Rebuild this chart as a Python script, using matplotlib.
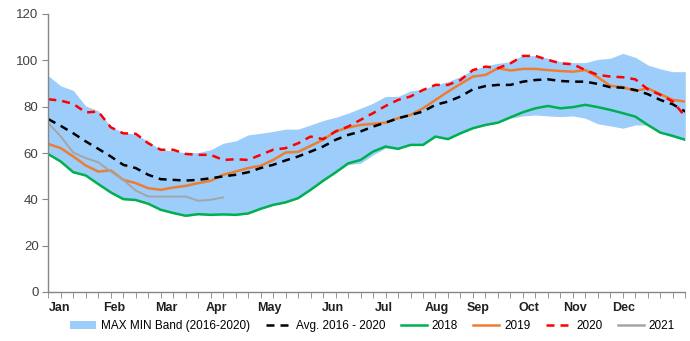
import numpy as np
import matplotlib
matplotlib.use("Agg")
import matplotlib.pyplot as plt
from matplotlib.patches import Patch
from matplotlib.lines import Line2D

plt.rcParams['font.family'] = ['Liberation Sans', 'DejaVu Sans']

weeks = np.arange(52)

band_max = [93.3, 89.0, 87.0, 80.3, 78.2, 71.4, 68.8, 68.1, 65.0, 61.4,
            61.0, 60.0, 60.2, 61.4, 64.2, 65.2, 67.8, 68.5, 69.3, 70.3,
            70.3, 72.1, 74.0, 75.4, 77.2, 79.3, 81.5, 84.4, 84.4, 86.8,
            87.5, 89.4, 90.8, 93.0, 95.8, 97.6, 98.7, 99.4, 102.3, 101.9,
            100.9, 99.4, 99.0, 99.0, 100.4, 100.9, 103.0, 101.3, 98.0, 96.3,
            95.1, 95.1]
band_min = [59.3, 56.1, 51.5, 50.1, 46.4, 42.8, 39.9, 39.5, 37.9, 35.3,
            33.9, 32.7, 33.4, 33.1, 33.3, 33.1, 33.7, 35.7, 37.4, 38.5,
            40.3, 43.9, 47.8, 51.4, 55.0, 55.6, 59.2, 62.1, 61.6, 63.3,
            63.3, 66.8, 65.8, 68.3, 70.5, 71.9, 72.9, 75.0, 76.0, 76.4,
            76.0, 75.7, 76.0, 75.0, 72.6, 71.7, 70.7, 72.1, 72.1, 68.8,
            66.8, 65.5]
avg_16_20 = [74.6, 71.7, 68.5, 65.0, 61.8, 58.5, 54.9, 53.5, 50.6, 48.7,
             48.4, 48.1, 48.4, 49.1, 49.9, 50.6, 51.7, 53.5, 54.9, 56.8,
             58.5, 60.6, 62.8, 65.7, 67.8, 69.3, 71.4, 73.1, 75.0, 76.4,
             77.9, 80.8, 82.2, 84.4, 87.5, 88.9, 89.4, 89.4, 90.8, 91.5,
             91.8, 91.1, 90.8, 90.8, 89.8, 88.4, 88.2, 87.2, 85.4, 82.9,
             81.0, 77.9]
y2018 = [59.5, 56.3, 51.7, 50.3, 46.6, 43.0, 40.1, 39.7, 38.1, 35.5,
         34.1, 32.9, 33.6, 33.3, 33.5, 33.3, 33.9, 35.9, 37.6, 38.7,
         40.5, 44.1, 48.0, 51.6, 55.5, 57.0, 60.6, 62.8, 61.8, 63.5,
         63.5, 67.1, 66.0, 68.5, 70.7, 72.1, 73.1, 75.4, 77.6, 79.3,
         80.3, 79.3, 79.8, 80.8, 79.8, 78.6, 77.2, 75.7, 72.1, 68.8,
         67.4, 65.7]
y2019 = [63.9, 62.1, 58.5, 54.6, 52.0, 52.5, 48.4, 47.0, 44.8, 44.1,
         45.1, 45.8, 47.0, 48.0, 50.6, 52.0, 53.5, 54.5, 57.0, 60.2,
         60.5, 63.1, 65.7, 69.3, 71.0, 72.1, 72.6, 73.1, 75.0, 76.4,
         79.3, 82.9, 86.5, 89.8, 93.0, 93.7, 96.6, 95.6, 96.3, 96.3,
         95.8, 95.4, 95.1, 95.8, 92.7, 89.0, 88.4, 86.8, 87.9, 85.4,
         82.9, 82.2]
y2020 = [83.2, 82.6, 81.2, 77.5, 77.9, 71.1, 68.5, 68.3, 64.2, 61.4,
         61.4, 59.6, 59.2, 59.2, 57.0, 57.3, 57.0, 59.2, 61.4, 62.1,
         64.2, 67.1, 66.0, 69.3, 71.4, 74.3, 77.2, 80.3, 82.9, 84.4,
         87.2, 89.4, 89.4, 91.5, 95.8, 97.3, 96.6, 98.7, 101.9, 101.9,
         100.2, 98.7, 98.3, 95.8, 93.7, 93.0, 92.7, 91.8, 87.5, 85.1,
         82.2, 75.7]
y2021 = [72.9, 67.1, 60.2, 57.8, 56.0, 52.0, 48.4, 43.8, 41.2, 41.2,
         41.2, 41.2, 39.4, 39.8, 40.8]

months = ['Jan', 'Feb', 'Mar', 'Apr', 'May', 'Jun', 'Jul', 'Aug', 'Sep', 'Oct', 'Nov', 'Dec']
month_pos = [0.94, 5.26, 9.42, 13.5, 17.7, 22.8, 26.9, 31.1, 34.4, 38.5, 42.2, 46.1]

fig = plt.figure(figsize=(6.9, 3.41), dpi=100)
ax = fig.add_axes([48.3 / 690, 1 - 292 / 341, 637 / 690, 278 / 341])

band_col = '#9DCDFA'
ax.fill_between(weeks, band_min, band_max, color=band_col, lw=0)
ax.plot(weeks, y2018, color='#00B050', lw=1.8)
ax.plot(weeks, y2019, color='#ED7D31', lw=1.8)
ax.plot(np.arange(len(y2021)), y2021, color='#A5A5A5', lw=1.4)
ax.plot(weeks, avg_16_20, color='black', lw=1.8, dashes=(3.2, 2.4))
ax.plot(weeks, y2020, color='#FF0000', lw=1.8, dashes=(3.2, 2.4))

ax.set_xlim(0, 51)
ax.set_ylim(0, 120)
ax.set_yticks(range(0, 121, 20))
for s in ['top', 'right']:
    ax.spines[s].set_visible(False)
for s in ['left', 'bottom']:
    ax.spines[s].set_color('#868686')
    ax.spines[s].set_linewidth(1.0)
ax.tick_params(axis='y', direction='out', length=4, color='#868686', labelsize=9.5,
               labelcolor='#404040', pad=3)
ax.set_xticks(weeks, minor=True)
ax.set_xticks(month_pos)
ax.set_xticklabels(months, fontweight='bold', fontsize=9, color='#202020')
ax.tick_params(axis='x', which='major', length=0, pad=7)
ax.tick_params(axis='x', which='minor', direction='out', length=4, color='#868686')

handles = [
    Patch(facecolor=band_col, edgecolor='none', label='MAX MIN Band (2016-2020)'),
    Line2D([], [], color='black', lw=1.8, dashes=(3.2, 2.4), label='Avg. 2016 - 2020'),
    Line2D([], [], color='#00B050', lw=1.8, label='2018'),
    Line2D([], [], color='#ED7D31', lw=1.8, label='2019'),
    Line2D([], [], color='#FF0000', lw=1.8, dashes=(3.2, 2.4), label='2020'),
    Line2D([], [], color='#A5A5A5', lw=1.8, label='2021'),
]
fig.legend(handles=handles, loc='center', bbox_to_anchor=(0.54, 0.044), ncol=6,
           frameon=False, fontsize=8.5, handlelength=2.2, handleheight=0.6,
           columnspacing=1.3, handletextpad=0.4)

fig.savefig('out.png', dpi=100)
